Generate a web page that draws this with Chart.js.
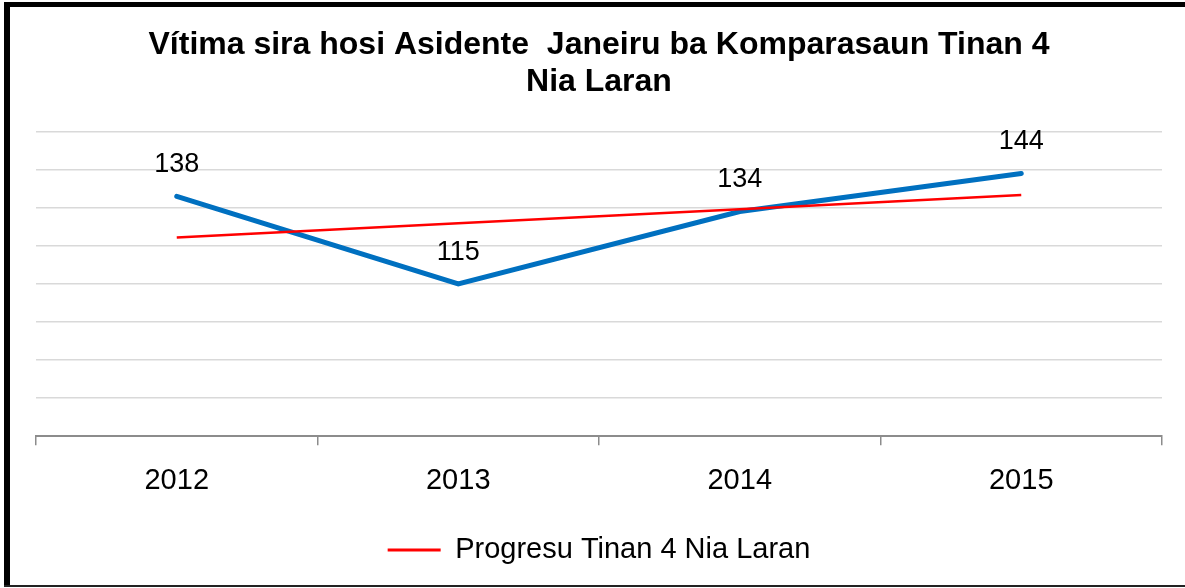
<!DOCTYPE html>
<html>
<head>
<meta charset="utf-8">
<script src="https://cdn.jsdelivr.net/npm/chart.js@4.4.1/dist/chart.umd.min.js"></script>
<style>
html, body { margin: 0; padding: 0; background: #fff; }
canvas { display: block; }
</style>
</head>
<body>
<canvas id="chart1" width="1185" height="588"></canvas>
<script>
var years = ['2012', '2013', '2014', '2015'];
var victims = [138, 115, 134, 144];
var progress = [127.2, 130.9, 134.6, 138.3];
var chartTitle = ['Vítima sira hosi Asidente  Janeiru ba Komparasaun Tinan 4', 'Nia Laran'];
var progressLabel = 'Progresu Tinan 4 Nia Laran';

var fontName = '"Liberation Sans", Arial, sans-serif';
Chart.defaults.font.family = fontName;
Chart.defaults.color = '#000';

// numbers above the blue line
var valueLabels = {
    id: 'valueLabels',
    afterDatasetsDraw: function (chart) {
        var ctx = chart.ctx;
        var meta = chart.getDatasetMeta(0);
        ctx.save();
        ctx.font = '27px ' + fontName;
        ctx.fillStyle = '#000';
        ctx.textAlign = 'center';
        ctx.textBaseline = 'alphabetic';
        meta.data.forEach(function (pt, i) {
            ctx.fillText(victims[i], pt.x, pt.y - 24);
        });
        ctx.restore();
    }
};

// black frame round the picture (left, top, bottom)
var frame = {
    id: 'frame',
    afterDraw: function (chart) {
        var ctx = chart.ctx;
        ctx.save();
        ctx.fillStyle = '#000';
        ctx.fillRect(4, 2, 6, 585);
        ctx.fillRect(4, 2, 1181, 5);
        ctx.fillStyle = '#222';
        ctx.fillRect(4, 585, 1181, 2);
        ctx.restore();
    }
};

var ctx = document.getElementById('chart1').getContext('2d');

var lineChart = new Chart(ctx, {
    type: 'line',
    data: {
        labels: years,
        datasets: [
            {
                label: 'Vítima',
                data: victims,
                borderColor: '#0070c0',
                backgroundColor: '#0070c0',
                borderWidth: 5,
                borderCapStyle: 'round',
                pointRadius: 0,
                fill: false,
                order: 1
            },
            {
                label: progressLabel,
                data: progress,
                borderColor: '#ff0000',
                backgroundColor: '#ff0000',
                borderWidth: 2.5,
                pointRadius: 0,
                fill: false,
                order: 0
            }
        ]
    },
    options: {
        responsive: false,
        animation: false,
        layout: {
            padding: { left: 36, right: 23, top: 0, bottom: 13.5 }
        },
        plugins: {
            title: {
                display: true,
                text: chartTitle,
                color: '#000',
                font: { size: 32, weight: 'bold', lineHeight: 1.18 },
                padding: { top: 26, bottom: 30 }
            },
            legend: {
                position: 'bottom',
                labels: {
                    boxWidth: 53,
                    boxHeight: 3,
                    font: { size: 29 },
                    color: '#000',
                    generateLabels: function (chart) {
                        return Chart.defaults.plugins.legend.labels.generateLabels(chart)
                            .filter(function (l) { return l.datasetIndex === 1; })
                            .map(function (l) {
                                l.lineWidth = 0;
                                l.fillStyle = '#ff0000';
                                return l;
                            });
                    }
                }
            },
            tooltip: { enabled: false }
        },
        scales: {
            x: {
                offset: true,
                grid: {
                    drawOnChartArea: false,
                    offset: true,
                    tickLength: 9,
                    color: '#8c8c8c',
                    lineWidth: 1.5
                },
                border: { display: true, color: '#8c8c8c', width: 2 },
                ticks: { font: { size: 29 }, padding: 18, color: '#000' },
                afterFit: function (scale) { scale.height += 9.5; }
            },
            y: {
                min: 75,
                max: 155,
                ticks: { display: false, stepSize: 10 },
                grid: { color: '#d9d9d9', lineWidth: 1.5, drawTicks: false },
                border: { display: false }
            }
        }
    },
    plugins: [valueLabels, frame]
});
</script>
</body>
</html>
